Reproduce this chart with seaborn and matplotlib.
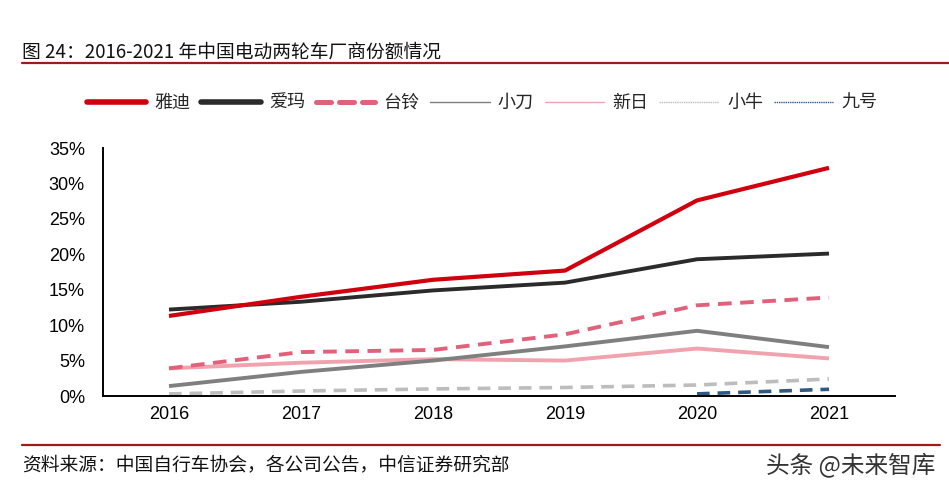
import matplotlib
matplotlib.use('Agg')
import matplotlib.pyplot as plt
import seaborn as sns
import numpy as np
import pandas as pd
from matplotlib.lines import Line2D
from matplotlib.ticker import FuncFormatter

# ---- data (market share, %) ----
years = [2016, 2017, 2018, 2019, 2020, 2021]
brands = ['雅迪', '爱玛', '台铃', '小刀', '新日', '小牛', '九号']
yadi = [11.3, 14.0, 16.4, 17.7, 27.6, 32.2]
aima = [12.2, 13.3, 14.9, 16.0, 19.3, 20.1]
tailing = [3.9, 6.2, 6.5, 8.7, 12.8, 13.9]
xiaodao = [1.4, 3.4, 5.0, 7.0, 9.2, 6.9]
xinri = [3.9, 4.7, 5.2, 5.0, 6.7, 5.3]
xiaoniu = [0.3, 0.7, 1.0, 1.2, 1.55, 2.4]
jiuhao = [np.nan, np.nan, np.nan, np.nan, 0.3, 0.95]
y_ticks = [0, 5, 10, 15, 20, 25, 30, 35]

series = [yadi, aima, tailing, xiaodao, xinri, xiaoniu, jiuhao]
colors = ['#D0000E', '#2B2B2B', '#E0617A', '#7F7F7F', '#F0A3AE', '#BDBDBD', '#2F5883']
lws = [3.0, 2.8, 2.8, 2.8, 2.8, 2.6, 2.6]
dashes = [None, None, (3.5, 2.2), None, None, (3.5, 2.2), (3.5, 2.2)]

sns.set_style('white')
plt.rcParams['font.family'] = ['Liberation Sans', 'Noto Sans CJK SC', 'DejaVu Sans']

fig = plt.figure(figsize=(9.49, 4.90), dpi=100)
ax = fig.add_axes([103/949, 1-396/490, (895-103)/949, (396-148)/490])

for i in reversed(range(len(brands))):
    df = pd.DataFrame({'year': years, 'share': series[i]})
    sns.lineplot(data=df, x='year', y='share', ax=ax, color=colors[i],
                 lw=lws[i], legend=False)
    l = ax.lines[-1]
    l.set_solid_capstyle('butt')
    if dashes[i] is not None:
        l.set_dashes(dashes[i])
        l.set_dash_capstyle('butt')

ax.set_xlim(2015.5, 2021.5)
ax.set_ylim(0, 35)
ax.set_xticks(years)
ax.set_xticklabels([str(y) for y in years])
ax.set_yticks(y_ticks)
ax.yaxis.set_major_formatter(FuncFormatter(lambda v, p: f'{v:.0f}%'))
ax.set_xlabel('')
ax.set_ylabel('')
for s in ['top', 'right']:
    ax.spines[s].set_visible(False)
for s in ['left', 'bottom']:
    ax.spines[s].set_color('black')
    ax.spines[s].set_linewidth(1.4)
ax.tick_params(axis='y', direction='in', length=4, width=1.3, pad=13,
               labelsize=13, colors='black')
ax.tick_params(axis='x', length=0, pad=7, labelsize=13, colors='black')

# legend
handles = []
for i in range(len(brands)):
    if i < 3:
        h = Line2D([0], [0], color=colors[i], lw=4 if i != 2 else 3.6,
                   solid_capstyle='round')
        if dashes[i] is not None:
            h.set_dashes((3, 1.6))
            h.set_dash_capstyle('round')
    else:
        h = Line2D([0], [0], color=colors[i], lw=1.0)
        if dashes[i] is not None:
            h.set_linestyle((0, (1, 0.6)))
    handles.append(h)
fig.legend(handles, brands, loc='center', bbox_to_anchor=(482/949, 1-103/490),
           ncol=7, frameon=False, handlelength=3.3,
           handletextpad=0.45, columnspacing=0.6,
           prop={'family': ['Noto Sans CJK SC'], 'size': 13})

# title and rules
fig.text(22/949, 1-52/490, '图 24：2016-2021 年中国电动两轮车厂商份额情况',
         fontsize=13.5, ha='left', va='center', color='#111111',
         family=['Noto Sans CJK SC', 'DejaVu Sans'])
fig.add_artist(Line2D([22/949, 1.0], [1-63/490, 1-63/490], color='#A11A1A', lw=1.6))
fig.add_artist(Line2D([22/949, 940/949], [1-445/490, 1-445/490], color='#A11A1A', lw=1.6))
fig.text(22/949, 1-465/490, '资料来源：中国自行车协会，各公司公告，中信证券研究部',
         fontsize=13.5, ha='left', va='center', color='#111111',
         family=['Noto Sans CJK SC', 'DejaVu Sans'])
fig.text(935/949, 1-465/490, '头条 @未来智库', fontsize=17, ha='right', va='center',
         color='#333333', family=['Noto Sans CJK SC', 'DejaVu Sans'])

fig.savefig('out.png', dpi=100)
